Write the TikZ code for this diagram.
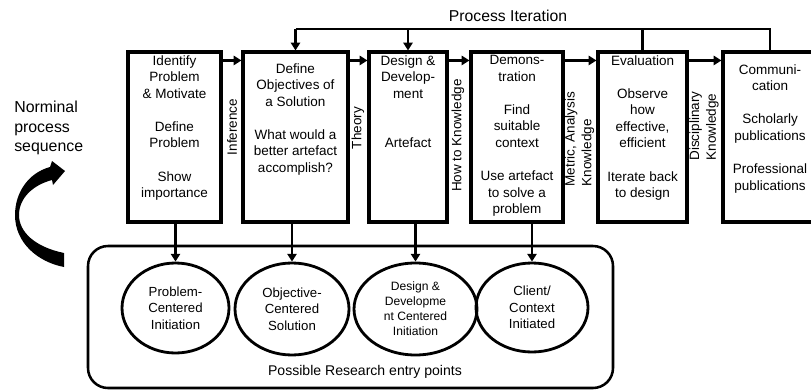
\documentclass[tikz,border=0pt]{standalone}
\usepackage{fontspec}
\setmainfont{Liberation Sans}
\usepackage{tikz}
\usetikzlibrary{arrows.meta, positioning, shapes.geometric, calc}

\tikzset{
    stagebox/.style={draw, line width=2.2pt, minimum height=4.25cm, inner sep=0pt},
    stagetext/.style={anchor=north, align=center, inner sep=3.2pt, font=\fontsize{9.6}{11.8}\selectfont},
    linklabel/.style={rotate=90, align=left, inner sep=0pt, font=\fontsize{9.6}{11.8}\selectfont},
    entrypoint/.style={ellipse, draw, line width=2pt, inner sep=0pt, align=center, font=\fontsize{9.4}{11.8}\selectfont},
    flow/.style={-{Triangle[length=5.5pt,width=6.5pt]}, line width=1.8pt},
}

\begin{document}
\begin{tikzpicture}
    \useasboundingbox (0,0) rectangle (20.275,9.75);
    \clip (0,0) rectangle (20.275,9.75);

    % Stages
    \node[stagebox, minimum width=2.325cm] (identify) at (4.3625,6.325) {};
    \node[stagebox, minimum width=2.625cm] (objective) at (7.3875,6.325) {};
    \node[stagebox, minimum width=1.95cm] (design) at (10.2,6.325) {};
    \node[stagebox, minimum width=2.3cm] (demo) at (12.925,6.325) {};
    \node[stagebox, minimum width=2.225cm] (evaluate) at (16.0625,6.325) {};
    \node[stagebox, minimum width=2.35cm] (publish) at (19.25,6.325) {};

    \node[stagetext] (identify-t) at (identify.north) {Identify\\Problem\\\& Motivate\\[11.8pt]Define\\Problem\\[11.8pt]Show\\importance};
    \node[stagetext] (objective-t) at ([yshift=-0.2cm]objective.north) {Define\\Objectives of\\a Solution\\[11.8pt]What would a\\better artefact\\accomplish?};
    \node[stagetext] (design-t) at (design.north) {Design \&\\Develop-\\ment\\[23.6pt]Artefact};
    \node[stagetext] (demo-t) at (demo.north) {Demons-\\tration\\[11.8pt]Find\\suitable\\context\\[11.8pt]Use artefact\\to solve a\\problem};
    \node[stagetext] (evaluate-t) at (evaluate.north) {Evaluation\\[11.8pt]Observe\\how\\effective,\\efficient\\[11.8pt]Iterate back\\to design};
    \node[stagetext] (publish-t) at ([yshift=-0.225cm]publish.north) {Communi-\\cation\\[11.8pt]Scholarly\\publications\\[11.8pt]Professional\\publications};

    % Sequence arrows
    \foreach \a/\b in {identify/objective, objective/design, design/demo, demo/evaluate, evaluate/publish} {
        \draw[flow] ([yshift=-0.25cm]\a.north east) -- ([yshift=-0.25cm]\b.north west);
    }

    % Knowledge labels
    \node[linklabel] (infer) at (5.8,6.575) {Inference};
    \node[linklabel] (theory) at (8.95,6.55) {Theory};
    \node[linklabel] (howto) at (11.45,6.3625) {How to Knowledge};
    \node[linklabel] (metric) at (14.4875,6.275) {Metric, Analysis\\Knowledge};
    \node[linklabel] (discipline) at (17.6,6.6) {Disciplinary\\Knowledge};

    % Process iteration
    \coordinate (iter) at (0,9.025);
    \draw[line width=1.8pt] (objective.north |- iter) -| (publish.north);
    \draw[line width=1.8pt] (evaluate.north |- iter) -- (evaluate.north);
    \draw[flow] (objective.north |- iter) -- (objective.north);
    \draw[flow] (design.north |- iter) -- (design.north);
    \node[font=\fontsize{11.2}{13.6}\selectfont] (iterlabel) at (12.7,9.35) {Process Iteration};

    % Nominal sequence
    \node[align=left, anchor=west, inner sep=0pt, font=\fontsize{11.3}{13.8}\selectfont] (seqlabel) at (0.35,6.55) {Norminal\\process\\sequence};
    \fill (1.6,3.425) .. controls (0.875,3.575) and (0.475,3.95) .. (0.475,4.375)
        .. controls (0.475,4.8) and (0.825,5.125) .. (1.3,5.25)
        -- (1.325,5.125) -- (1.625,5.475) -- (1.3,5.725) -- (1.25,5.575)
        .. controls (0.7,5.425) and (0.375,4.925) .. (0.375,4.375)
        .. controls (0.375,3.675) and (0.95,3.2) .. (1.6,3.075) -- cycle;

    % Entry points
    \node[draw, line width=1.8pt, rounded corners=0.5cm, minimum width=13.125cm, minimum height=3.55cm] (entrypts) at (8.7625,1.825) {};
    \node[font=\fontsize{10}{12}\selectfont] (entrylabel) at (9.125,0.45) {Possible Research entry points};

    \node[entrypoint, minimum width=2.675cm, minimum height=2.25cm] (probinit) at (4.3875,2.05) {Problem-\\Centered\\Initiation};
    \node[entrypoint, minimum width=2.85cm, minimum height=2.3cm] (objsol) at (7.3,2.025) {Objective-\\Centered\\Solution};
    \node[entrypoint, minimum width=3.075cm, minimum height=2.3cm, font=\fontsize{8.6}{10.6}\selectfont] (ddinit) at (10.3875,2.025) {Design \&\\Developme\\nt Centered\\Initiation};
    \node[entrypoint, minimum width=2.8cm, minimum height=2.225cm] (clientinit) at (13.3,2.0625) {Client/\\Context\\Initiated};

    \foreach \s/\e in {identify/probinit, objective/objsol, design/ddinit, demo/clientinit} {
        \draw[flow] (\s.south -| \e.north) -- (\e.north);
    }
\end{tikzpicture}
\end{document}
